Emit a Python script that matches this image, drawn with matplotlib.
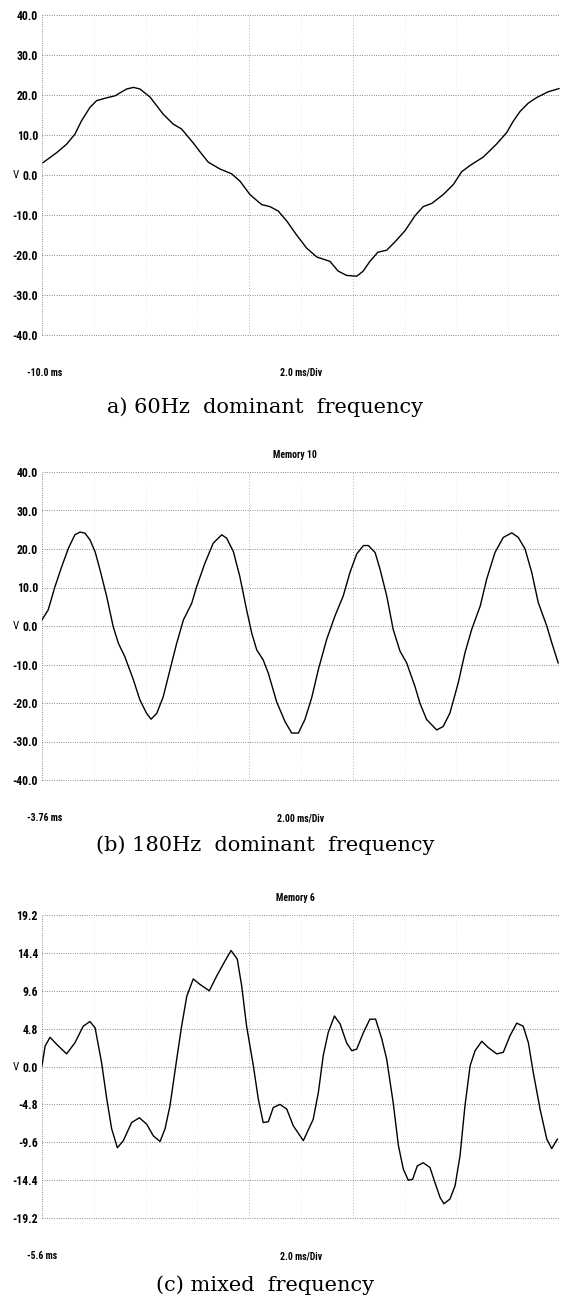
import numpy as np
import matplotlib
matplotlib.use('Agg')
import matplotlib.pyplot as plt
from matplotlib import font_manager

W, H = 564, 1298
# the scope labels are in a condensed face; take the first condensed one installed
_names = {f.name for f in font_manager.fontManager.ttflist}
NARROW = [n for n in ['Liberation Sans Narrow', 'DejaVu Sans Condensed', 'Roboto Condensed',
                      'Open Sans Condensed'] if n in _names] + ['DejaVu Sans']
SERIF = ['DejaVu Serif']

# a) 60Hz dominant frequency  (time in ms, voltage in V)
t_a = [-9.96, -9.43, -9.05, -8.73, -8.47, -8.15, -7.89, -7.50, -7.18, -6.73,
       -6.47, -6.22, -5.83, -5.32, -4.93, -4.61, -4.16, -3.90, -3.58, -3.13,
       -2.68, -2.36, -1.97, -1.52, -1.20, -0.88, -0.55, -0.17, 0.22, 0.61,
       1.12, 1.43, 1.76, 2.15, 2.39, 2.66, 2.97, 3.31, 3.63, 4.02,
       4.40, 4.72, 5.05, 5.49, 5.88, 6.20, 6.53, 7.04, 7.56, 7.94,
       8.20, 8.46, 8.78, 9.11, 9.54, 9.96]
v_a = [3.1, 5.6, 7.7, 10.2, 13.6, 16.9, 18.6, 19.3, 19.8, 21.5,
       21.9, 21.5, 19.5, 15.2, 12.7, 11.5, 8.0, 5.8, 3.2, 1.5,
       0.3, -1.5, -4.9, -7.4, -7.9, -9.0, -11.5, -15.0, -18.3, -20.5,
       -21.6, -24.0, -25.1, -25.3, -24.1, -21.6, -19.3, -18.8, -16.7, -13.9,
       -10.2, -7.9, -7.1, -4.9, -2.4, 0.8, 2.4, 4.5, 7.8, 10.6,
       13.5, 15.9, 18.0, 19.4, 20.8, 21.6]

# (b) 180Hz dominant frequency
t_b = [-3.76, -3.52, -3.26, -3.00, -2.74, -2.49, -2.29, -2.10, -1.91, -1.71,
       -1.52, -1.26, -1.01, -0.81, -0.56, -0.23, 0.02, 0.28, 0.45, 0.67,
       0.92, 1.18, 1.44, 1.70, 2.02, 2.21, 2.53, 2.85, 3.18, 3.37,
       3.63, 3.88, 4.14, 4.34, 4.53, 4.78, 4.98, 5.30, 5.62, 5.88,
       6.14, 6.39, 6.65, 6.91, 7.23, 7.55, 7.87, 8.13, 8.39, 8.65,
       8.84, 9.10, 9.29, 9.55, 9.80, 10.06, 10.32, 10.64, 10.83, 11.09,
       11.48, 11.73, 11.99, 12.31, 12.57, 12.83, 13.16, 13.41, 13.73, 14.05,
       14.38, 14.63, 14.89, 15.15, 15.40, 15.73, 15.92, 16.17]
v_b = [1.6, 4.2, 10.2, 15.4, 20.2, 23.7, 24.4, 24.1, 22.4, 19.3,
       14.6, 7.6, -0.2, -4.5, -8.0, -14.0, -19.2, -22.7, -24.2, -22.7,
       -18.4, -11.4, -4.5, 1.6, 5.9, 10.2, 16.3, 21.5, 23.7, 22.8,
       19.3, 12.8, 4.2, -1.9, -6.2, -8.8, -12.3, -19.7, -24.8, -27.8,
       -27.8, -24.3, -18.7, -11.3, -3.5, 2.6, 7.8, 13.9, 18.7, 20.9,
       20.9, 19.1, 14.8, 7.8, -0.9, -6.5, -9.6, -15.7, -20.0, -24.3,
       -27.0, -26.1, -22.6, -14.8, -7.0, -0.9, 5.2, 12.2, 19.1, 23.0,
       24.2, 23.0, 20.0, 13.9, 6.1, 0.0, -4.3, -9.6]

# (c) mixed frequency
t_c = [-5.60, -5.48, -5.29, -5.03, -4.65, -4.33, -4.01, -3.75, -3.55, -3.30,
       -3.10, -2.91, -2.69, -2.46, -2.14, -1.84, -1.56, -1.30, -1.04, -0.85,
       -0.66, -0.40, -0.21, -0.01, 0.24, 0.50, 0.86, 1.15, 1.47, 1.70,
       1.94, 2.11, 2.30, 2.56, 2.75, 2.94, 3.14, 3.33, 3.59, 3.85,
       4.10, 4.49, 4.87, 5.07, 5.26, 5.45, 5.69, 5.91, 6.16, 6.36,
       6.55, 6.81, 7.06, 7.28, 7.52, 7.71, 7.96, 8.16, 8.35, 8.54,
       8.71, 8.89, 9.12, 9.38, 9.57, 9.77, 9.92, 10.15, 10.35, 10.54,
       10.73, 10.93, 11.12, 11.38, 11.63, 11.96, 12.21, 12.47, 12.73, 12.98,
       13.18, 13.37, 13.63, 13.89, 14.08, 14.30]
v_c = [0.1, 2.6, 3.7, 2.8, 1.6, 3.0, 5.1, 5.7, 4.9, 0.5,
       -4.1, -7.9, -10.3, -9.4, -7.1, -6.5, -7.3, -8.8, -9.5, -7.9,
       -5.0, 0.9, 5.1, 8.9, 11.1, 10.4, 9.6, 11.5, 13.4, 14.7,
       13.6, 10.2, 5.1, 0.1, -4.1, -7.1, -7.0, -5.2, -4.8, -5.4,
       -7.5, -9.4, -6.7, -3.3, 1.4, 4.3, 6.4, 5.4, 3.0, 2.0,
       2.2, 4.3, 6.0, 6.0, 3.5, 0.9, -4.6, -10.0, -13.0, -14.4,
       -14.3, -12.6, -12.2, -12.8, -14.7, -16.6, -17.4, -16.8, -15.1, -11.3,
       -5.0, 0.1, 2.0, 3.2, 2.4, 1.6, 1.8, 3.9, 5.5, 5.1,
       3.0, -0.8, -5.4, -9.2, -10.4, -9.2]

ticks_ab = [40, 30, 20, 10, 0, -10, -20, -30, -40]
labels_ab = ['40.0', '30.0', '20.0', '10.0', '0.0', '-10.0', '-20.0', '-30.0', '-40.0']
ticks_c = [19.2, 14.4, 9.6, 4.8, 0.0, -4.8, -9.6, -14.4, -19.2]
labels_c = ['19.2', '14.4', '9.6', '4.8', '0.0', '-4.8', '-9.6', '-14.4', '-19.2']

fig = plt.figure(figsize=(W / 100, H / 100), dpi=100)


def ftext(x, y, s, **kw):
    """text placed in pixel coords of the reference"""
    fig.text(x / W, 1 - y / H, s, **kw)


def panel(top, bottom, t, v, t0, ticks, labels, start_lbl, div_lbl, memory=None):
    ax = fig.add_axes([42 / W, 1 - bottom / H, 518 / W, (bottom - top) / H])
    ax.set_xlim(t0, t0 + 20)
    ax.set_ylim(ticks[-1], ticks[0])
    for s in ax.spines.values():
        s.set_visible(False)
    dot = dict(color='#666666', lw=0.6, ls=(0, (1, 1.8)), clip_on=False, zorder=1)
    for y in ticks:
        ax.axhline(y, **dot)
    ax.axvline(t0, **dot)
    # vertical divisions, only the middle ones survived the scan
    for k in range(1, 10):
        a = 0.6 if k in (4, 6) else 0.15
        ax.axvline(t0 + 2 * k, color='#555555', lw=0.6, ls=(0, (1, 2.5)), alpha=a, zorder=1)
    ax.plot(t, v, color='black', lw=1.0, zorder=3)
    ax.set_xticks([])
    ax.set_yticks(ticks)
    ax.set_yticklabels(labels, family=NARROW, fontweight='bold', fontsize=8.5)
    ax.tick_params(axis='y', length=0, pad=3)
    ax.text(-0.05, 0, 'V', transform=ax.get_yaxis_transform(), family=NARROW,
            fontsize=8, ha='center', va='center')
    ftext(27, bottom + 38, start_lbl, family=NARROW, fontsize=7, fontweight='bold', va='center')
    ftext(301, bottom + 38, div_lbl, family=NARROW, fontsize=7, fontweight='bold',
          va='center', ha='center')
    if memory:
        ftext(295, top - 17, memory, family=NARROW, fontsize=7, fontweight='bold',
              va='center', ha='center')
    return ax


panel(15, 335, t_a, v_a, -10.0, ticks_ab, labels_ab, '-10.0 ms', '2.0 ms/Div')
ftext(265, 407, 'a) 60Hz  dominant  frequency', family=SERIF, fontsize=15, ha='center', va='center')

panel(472, 780, t_b, v_b, -3.76, ticks_ab, labels_ab, '-3.76 ms', '2.00 ms/Div', 'Memory 10')
ftext(265, 845, '(b) 180Hz  dominant  frequency', family=SERIF, fontsize=15, ha='center', va='center')

panel(915, 1218, t_c, v_c, -5.6, ticks_c, labels_c, '-5.6 ms', '2.0 ms/Div', 'Memory 6')
ftext(265, 1285, '(c) mixed  frequency', family=SERIF, fontsize=15, ha='center', va='center')

fig.savefig('out.png', dpi=100)
